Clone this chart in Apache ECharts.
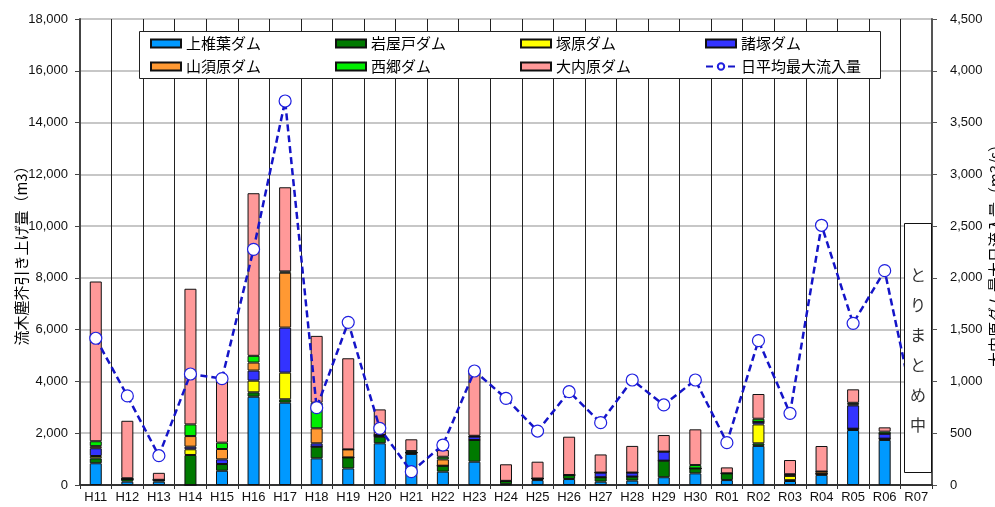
<!DOCTYPE html>
<html>
<head>
<meta charset="utf-8">
<script src="https://cdn.jsdelivr.net/npm/echarts@6/dist/echarts.min.js"></script>
<style>
  body { margin: 0; background: #fff; }
  #main { width: 995px; height: 507px; }
</style>
</head>
<body>
<div id="main"></div>
<script>
// 年度
var categories = ['H11','H12','H13','H14','H15','H16','H17','H18','H19','H20',
  'H21','H22','H23','H24','H25','H26','H27','H28','H29','H30',
  'R01','R02','R03','R04','R05','R06','R07'];

// 流木塵芥引き上げ量 (m3)
var kamishiiba = [840,130,130,0,550,3410,3180,1030,640,1610,1200,515,900,30,190,230,130,170,300,450,190,1510,155,390,2125,1740,null];
var iwayado    = [190,100,70,1160,260,170,130,450,425,260,50,230,840,130,60,155,170,155,640,190,260,100,30,40,50,50,null];
var tsukabaru  = [90,0,0,220,0,450,1030,0,0,0,0,0,0,0,0,0,0,0,0,0,0,730,170,0,0,0,null];
var morotsuka  = [300,0,0,100,180,390,1740,130,0,60,0,0,130,0,0,0,180,155,350,0,0,100,0,0,900,190,null];
var yamasubaru = [80,0,0,410,400,310,2120,580,310,0,0,245,0,0,0,0,0,0,0,0,0,0,60,90,40,0,null];
var saigo      = [190,30,0,450,245,260,50,990,0,0,60,100,30,0,0,0,0,0,0,130,0,120,0,0,60,80,null];
var ouchibaru  = [6170,2220,270,5240,2420,6280,3250,2580,3520,990,455,260,2540,640,650,1480,700,1030,640,1380,230,955,550,986,520,167,null];

// 大内原ダム 日平均最大流入量 (m3/s)
var inflow = [1417,860,283,1072,1027,2276,3708,747,1571,547,129,386,1101,837,521,901,602,1014,773,1014,409,1394,692,2508,1561,2070,640];

var leftTicks = { min: 0, max: 18000, interval: 2000 };
var rightTicks = { min: 0, max: 4500, interval: 500 };

var jp = '"Noto Sans CJK JP", sans-serif';
var num = '"Liberation Sans", Arial, sans-serif';

function fmt(v) { return v.toLocaleString('en-US'); }

var damSeries = [
  ['上椎葉ダム', kamishiiba, '#0099ff'],
  ['岩屋戸ダム', iwayado, '#007a00'],
  ['塚原ダム', tsukabaru, '#ffff00'],
  ['諸塚ダム', morotsuka, '#3333ff'],
  ['山須原ダム', yamasubaru, '#ff9933'],
  ['西郷ダム', saigo, '#00ee00'],
  ['大内原ダム', ouchibaru, '#ff9999']
];

var series = damSeries.map(function (d) {
  return {
    name: d[0],
    type: 'bar',
    stack: 'dam',
    barWidth: 12,
    data: d[1],
    itemStyle: { color: d[2], borderColor: '#111', borderWidth: 1 }
  };
});
series.push({
  name: '日平均最大流入量',
  type: 'line',
  yAxisIndex: 1,
  data: inflow,
  symbol: 'circle',
  symbolSize: 12,
  z: 5,
  lineStyle: { color: '#1414c8', width: 2.5, type: [7, 4] },
  itemStyle: { color: '#fff', borderColor: '#1f1fe0', borderWidth: 1.2 }
});

function legendCol(left, names) {
  return {
    left: left,
    top: 36,
    padding: 0,
    orient: 'vertical',
    itemWidth: 30,
    itemHeight: 8,
    itemGap: 8,
    z: 6,
    textStyle: { fontFamily: jp, fontSize: 15, color: '#000', lineHeight: 15 },
    data: names.map(function (n) {
      return n === '日平均最大流入量' ? { name: n } : { name: n, icon: 'rect' };
    })
  };
}

var chart = echarts.init(document.getElementById('main'));
chart.setOption({
  animation: false,
  backgroundColor: '#fff',
  grid: { left: 80, right: 63, top: 19, bottom: 22, outerBoundsMode: 'none', containLabel: false },
  legend: [
    legendCol(150, ['上椎葉ダム', '山須原ダム']),
    legendCol(335, ['岩屋戸ダム', '西郷ダム']),
    legendCol(520, ['塚原ダム', '大内原ダム']),
    legendCol(705, ['諸塚ダム', '日平均最大流入量'])
  ],
  xAxis: {
    type: 'category',
    data: categories,
    axisLine: { lineStyle: { color: '#333', width: 2 } },
    axisTick: { show: true, length: 4, lineStyle: { color: '#333' } },
    axisLabel: { interval: 0, color: '#111', fontFamily: num, fontSize: 13, margin: 6 },
    splitLine: { show: true, interval: 0, lineStyle: { color: '#222', width: 1 } }
  },
  yAxis: [
    {
      type: 'value',
      min: leftTicks.min, max: leftTicks.max, interval: leftTicks.interval,
      name: '流木塵芥引き上げ量（m3）',
      nameLocation: 'middle',
      nameGap: 51,
      nameMoveOverlap: false,
      nameRotate: 90,
      nameTextStyle: { fontFamily: jp, fontSize: 15, color: '#000' },
      axisLine: { show: true, lineStyle: { color: '#444', width: 2 } },
      axisTick: { show: true, length: 5, lineStyle: { color: '#444' } },
      axisLabel: { color: '#111', fontFamily: num, fontSize: 13, margin: 12, formatter: fmt },
      splitLine: { show: true, lineStyle: { color: '#b4b4b4', width: 1.5 } }
    },
    {
      type: 'value',
      min: rightTicks.min, max: rightTicks.max, interval: rightTicks.interval,
      name: '大内原ダム最大日流入量（m3/s）',
      nameLocation: 'middle',
      nameGap: 56,
      nameMoveOverlap: false,
      nameRotate: 90,
      nameTextStyle: { fontFamily: jp, fontSize: 15, color: '#000' },
      axisLine: { show: true, lineStyle: { color: '#555', width: 2 } },
      axisTick: { show: true, length: 5, lineStyle: { color: '#555' } },
      axisLabel: { color: '#111', fontFamily: num, fontSize: 13, margin: 18, formatter: fmt },
      splitLine: { show: false }
    }
  ],
  graphic: [
    {
      type: 'rect',
      z: 4,
      shape: { x: 139.5, y: 31.5, width: 741, height: 47 },
      style: { fill: '#fff', stroke: '#222', lineWidth: 1 }
    },
    {
      type: 'rect',
      z: 10,
      shape: { x: 904.5, y: 223.5, width: 27, height: 249 },
      style: { fill: '#fff', stroke: '#111', lineWidth: 1 }
    },
    {
      type: 'text',
      z: 11,
      x: 918,
      y: 350,
      style: {
        text: 'と\nり\nま\nと\nめ\n中',
        fontFamily: jp,
        fontSize: 16,
        lineHeight: 30,
        fill: '#333',
        align: 'center',
        verticalAlign: 'middle'
      }
    }
  ],
  series: series
});
</script>
</body>
</html>
